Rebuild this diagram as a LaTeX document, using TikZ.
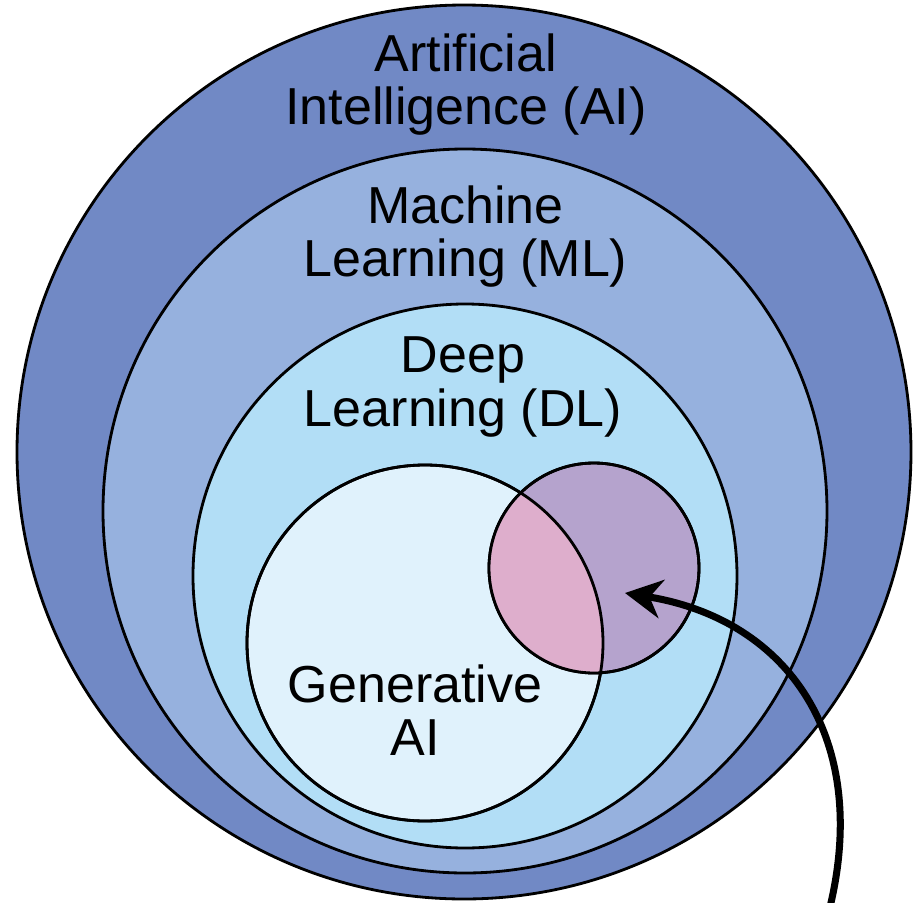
\documentclass[tikz,border=0pt]{standalone}
\usepackage{fontspec}
\setmainfont{Liberation Sans}
\usetikzlibrary{arrows.meta}

\definecolor{aiblue}{HTML}{7189C5}
\definecolor{mlblue}{HTML}{96B1DE}
\definecolor{dlblue}{HTML}{B2DEF6}
\definecolor{genblue}{HTML}{E0F2FC}
\definecolor{subpurple}{HTML}{B5A3CD}
\definecolor{overlappink}{HTML}{DEAECC}

\tikzset{
    ring/.style={draw=black, line width=0.8pt},
    areatext/.style={align=center, inner sep=0pt, font=\fontsize{14.8}{15.1}\selectfont}
}

\begin{document}
\begin{tikzpicture}[>={Stealth[length=10.5pt, width=11pt]}]
    \useasboundingbox (0,0) rectangle (9.17,9.02);

    % Nested circles, outermost first
    \filldraw[ring, fill=aiblue] (4.64,4.50) circle (4.47);
    \filldraw[ring, fill=mlblue] (4.65,3.91) circle (3.62);
    \filldraw[ring, fill=dlblue] (4.65,3.26) circle (2.72);
    \filldraw[ring, fill=genblue] (4.25,2.59) circle (1.78);
    \filldraw[ring, fill=subpurple] (5.94,3.34) circle (1.05);

    % Overlap of the two small circles
    \begin{scope}
        \clip (4.25,2.59) circle (1.78);
        \fill[overlappink] (5.94,3.34) circle (1.05);
    \end{scope}
    \draw[ring] (4.25,2.59) circle (1.78);
    \draw[ring] (5.94,3.34) circle (1.05);

    % Names of the areas
    \node[areatext] (ai) at (4.66,8.17) {Artificial\\Intelligence (AI)};
    \node[areatext] (ml) at (4.655,6.65) {Machine\\Learning (ML)};
    \node[areatext] (dl) at (4.63,5.15) {Deep\\Learning (DL)};
    \node[areatext] (gen) at (4.15,1.92) {Generative\\AI};

    % Arrow into the small circle
    \coordinate (start) at (8.30,-0.05);
    \coordinate (tip) at (6.25,3.09);
    \draw[->, line width=2pt] (start) .. controls (8.70,1.62) and (7.90,2.82) .. (tip);
\end{tikzpicture}
\end{document}
